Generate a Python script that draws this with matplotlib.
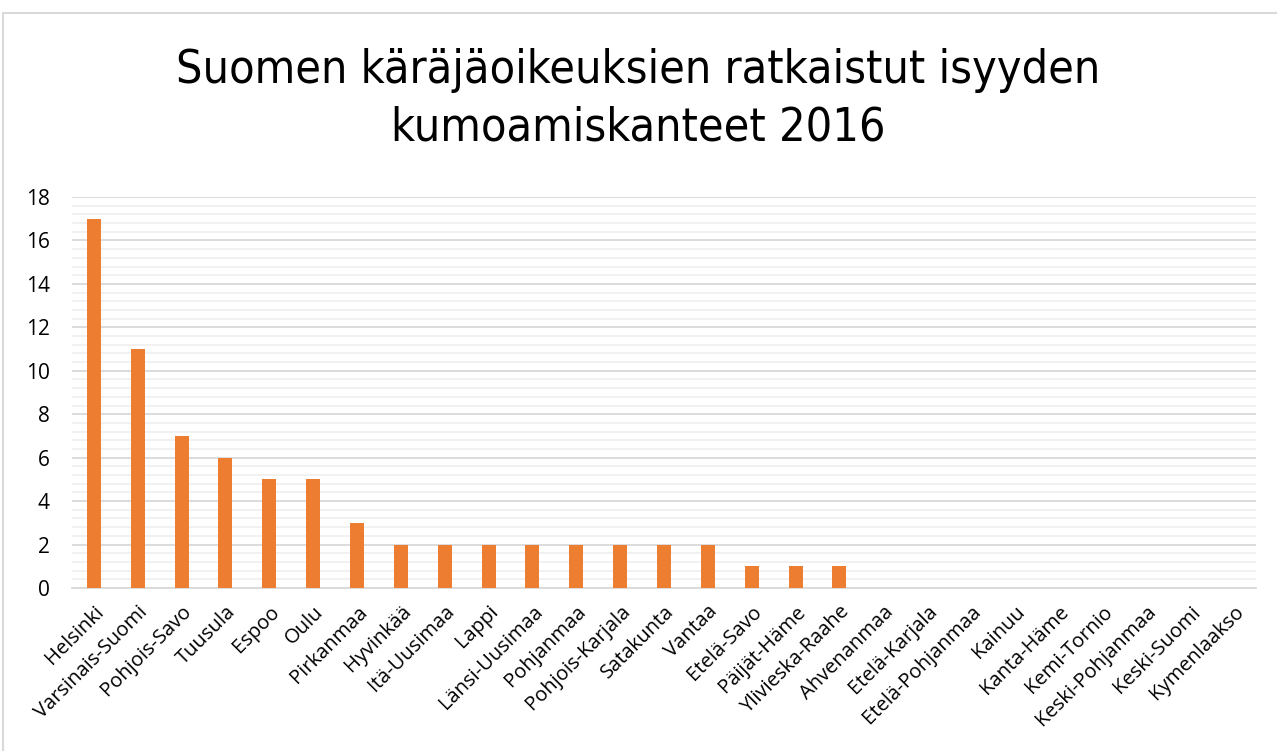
import numpy as np
import matplotlib
matplotlib.use('Agg')
import matplotlib.pyplot as plt
from matplotlib.patches import Rectangle
from matplotlib.ticker import MultipleLocator

courts = ['Helsinki', 'Varsinais-Suomi', 'Pohjois-Savo', 'Tuusula', 'Espoo',
          'Oulu', 'Pirkanmaa', 'Hyvinkää', 'Itä-Uusimaa', 'Lappi',
          'Länsi-Uusimaa', 'Pohjanmaa', 'Pohjois-Karjala', 'Satakunta',
          'Vantaa', 'Etelä-Savo', 'Päijät-Häme', 'Ylivieska-Raahe',
          'Ahvenanmaa', 'Etelä-Karjala', 'Etelä-Pohjanmaa', 'Kainuu',
          'Kanta-Häme', 'Kemi-Tornio', 'Keski-Pohjanmaa', 'Keski-Suomi',
          'Kymenlaakso']
cases = [17, 11, 7, 6, 5, 5, 3, 2, 2, 2, 2, 2, 2, 2, 2, 1, 1, 1,
         0, 0, 0, 0, 0, 0, 0, 0, 0]

TITLE = 'Suomen käräjäoikeuksien ratkaistut isyyden\nkumoamiskanteet 2016'
BAR_COLOR = '#ED7D31'
DPI = 100
LABEL_FONT = ['Open Sans', 'DejaVu Sans']

fig = plt.figure(figsize=(12.77, 7.51), dpi=DPI)
W, H = 1277, 751
# axes placed in pixel terms: x 72..1256, y 197..588
ax = fig.add_axes([72 / W, 1 - 588 / H, (1256 - 72) / W, (588 - 197) / H])

x = np.arange(len(courts))
ax.bar(x, cases, width=0.32, color=BAR_COLOR, zorder=3)

ax.set_xlim(-0.5, len(courts) - 0.5)
ax.set_ylim(0, 18)
ax.yaxis.set_major_locator(MultipleLocator(2))
ax.yaxis.set_minor_locator(MultipleLocator(0.4))
ax.grid(axis='y', which='major', color='#D9D9D9', linewidth=1.3, zorder=0)
ax.grid(axis='y', which='minor', color='#F0F0F0', linewidth=1.3, zorder=0)

ax.set_xticks(x)
ax.set_xticklabels(courts, rotation=45, ha='right', rotation_mode='anchor',
                   fontsize=14.5, family=LABEL_FONT)
for lab in ax.get_yticklabels():
    lab.set_fontsize(15)
    lab.set_family(LABEL_FONT)
ax.tick_params(axis='both', which='both', length=0)
ax.tick_params(axis='y', pad=16)
ax.tick_params(axis='x', pad=10)

for s in ['top', 'right', 'left']:
    ax.spines[s].set_visible(False)
ax.spines['bottom'].set_color('#D9D9D9')
ax.spines['bottom'].set_linewidth(1.3)

fig.text(0.5, 1 - 99 / H, TITLE, ha='center', va='center', fontsize=33.5,
         family='DejaVu Sans', fontstretch='condensed', linespacing=1.35)

# thin frame around the chart area
fig.patches.append(Rectangle((3 / W, -0.01), 1.02, 1 - 13 / H + 0.01,
                             transform=fig.transFigure, fill=False,
                             edgecolor='#D9D9D9', linewidth=1.5))

fig.savefig('out.png', dpi=DPI)
